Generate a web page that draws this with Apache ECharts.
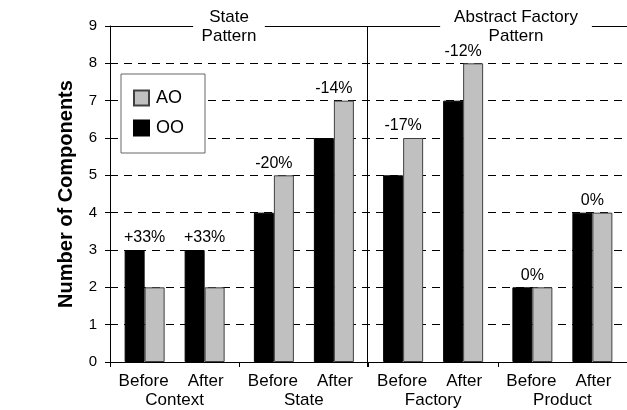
<!DOCTYPE html>
<html>
<head>
<meta charset="utf-8">
<script src="https://cdn.jsdelivr.net/npm/echarts@6/dist/echarts.min.js"></script>
<style>html,body{margin:0;padding:0;background:#fff}#c{width:627px;height:410px}</style>
</head>
<body>
<div id="c"></div>
<script>
// ---- data ----
var groups = ['Context', 'State', 'Factory', 'Product'];
var phases = ['Before', 'After'];
var ooBefore = [3, 4, 5, 2];
var aoBefore = [2, 5, 6, 2];
var ooAfter  = [3, 6, 7, 4];
var aoAfter  = [2, 7, 8, 4];
var pctBefore = ['+33%', '-20%', '-17%', '0%'];
var pctAfter  = ['+33%', '-14%', '-12%', '0%'];
var patternNames = ['State', 'Abstract Factory'];
var patternWord = 'Pattern';
var yTicks = [0, 1, 2, 3, 4, 5, 6, 7, 8, 9];

var FONT = "'Liberation Sans', Arial, sans-serif";
var chart = echarts.init(document.getElementById('c'));

function pctLabel(txt, dx) {
  return { show: true, position: 'top', distance: 4, offset: [dx, 0], formatter: txt,
           color: '#000', fontSize: 16, fontFamily: FONT };
}
function makeOO(oo, ao, pct) {
  return oo.map(function (v, i) {
    var d = { value: v };
    if (oo[i] > ao[i]) d.label = pctLabel(pct[i], 10);
    return d;
  });
}
function makeAO(oo, ao, pct) {
  return ao.map(function (v, i) {
    var d = { value: v };
    if (ao[i] >= oo[i]) d.label = pctLabel(pct[i], -10);
    return d;
  });
}

var ooStyle = { color: '#000', borderColor: '#000', borderWidth: 1 };
var aoStyle = { color: '#c0c0c0', borderColor: '#404040', borderWidth: 1 };

function titleText(x, y, txt, pad, bg) {
  var st = { text: txt, fontSize: 17, fontFamily: FONT, fill: '#000',
             align: 'center', verticalAlign: 'top', lineHeight: 19 };
  if (bg) { st.backgroundColor = '#fff'; st.padding = [0, pad]; }
  return { type: 'text', z: 100, x: x, y: y, style: st };
}

var option = {
  animation: false,
  backgroundColor: '#fff',
  textStyle: { fontFamily: FONT },
  grid: { left: 110, right: -7, top: 26, bottom: 48, containLabel: false },
  legend: {
    data: ['AO', 'OO'],
    orient: 'vertical',
    left: 121, top: 74,
    padding: [15, 21, 16, 12],
    itemWidth: 15, itemHeight: 15, itemGap: 12,
    backgroundColor: '#fff',
    borderColor: '#666', borderWidth: 1,
    textStyle: { fontSize: 18, color: '#000', fontFamily: FONT, padding: [0, 0, 0, 2] },
    icon: 'rect'
  },
  xAxis: [
    {
      type: 'category',
      data: groups,
      position: 'bottom',
      axisLine: { show: true, lineStyle: { color: '#000', width: 1 } },
      axisTick: { show: true, length: 5, lineStyle: { color: '#000' } },
      axisLabel: {
        interval: 0, margin: 10, color: '#000',
        formatter: function (v) {
          return '{p|' + phases[0] + '}{p|' + phases[1] + '}\n{g|' + v + '}';
        },
        rich: {
          p: { width: 62, align: 'center', fontSize: 17, lineHeight: 19, fontFamily: FONT, color: '#000' },
          g: { width: 124, align: 'center', fontSize: 17, lineHeight: 19, fontFamily: FONT, color: '#000' }
        }
      },
      splitLine: { show: false }
    },
    {
      type: 'category',
      data: groups,
      position: 'top',
      axisLine: { show: true, lineStyle: { color: '#000', width: 1 } },
      axisTick: { show: false },
      axisLabel: { show: false },
      splitLine: { show: false }
    }
  ],
  yAxis: {
    type: 'value',
    min: yTicks[0], max: yTicks[yTicks.length - 1], interval: 1,
    name: 'Number of Components',
    nameLocation: 'middle',
    nameGap: 34,
    nameTextStyle: { fontSize: 20, fontWeight: 'bold', color: '#000', fontFamily: FONT },
    axisLine: { show: true, lineStyle: { color: '#000', width: 1 } },
    axisTick: { show: true, length: 5, lineStyle: { color: '#000' } },
    axisLabel: { fontSize: 15, color: '#000', margin: 13, fontFamily: FONT },
    splitLine: { show: true, lineStyle: { color: '#000', type: [8, 6], width: 1 } }
  },
  series: [
    { name: 'OO', type: 'bar', barWidth: 20, barGap: '0%', itemStyle: ooStyle,
      data: makeOO(ooBefore, aoBefore, pctBefore) },
    { name: 'AO', type: 'bar', barWidth: 20, barGap: '0%', itemStyle: aoStyle,
      data: makeAO(ooBefore, aoBefore, pctBefore) },
    { name: 'gap', type: 'bar', barWidth: 20, barGap: '0%', itemStyle: { color: 'transparent' },
      data: groups.map(function () { return '-'; }), silent: true },
    { name: 'OO', type: 'bar', barWidth: 20, barGap: '0%', itemStyle: ooStyle,
      data: makeOO(ooAfter, aoAfter, pctAfter) },
    { name: 'AO', type: 'bar', barWidth: 20, barGap: '0%', itemStyle: aoStyle,
      data: makeAO(ooAfter, aoAfter, pctAfter) }
  ],
  graphic: [
    { type: 'line', z: 100, shape: { x1: 367.5, y1: 27, x2: 367.5, y2: 367 },
      style: { stroke: '#000', lineWidth: 1 } },
    titleText(229, 8, patternNames[0], 16, true),
    titleText(229, 27, patternWord, 0, false),
    titleText(516, 8, patternNames[1], 14, true),
    titleText(516, 27, patternWord, 0, false)
  ]
};
chart.setOption(option);
</script>
</body>
</html>
